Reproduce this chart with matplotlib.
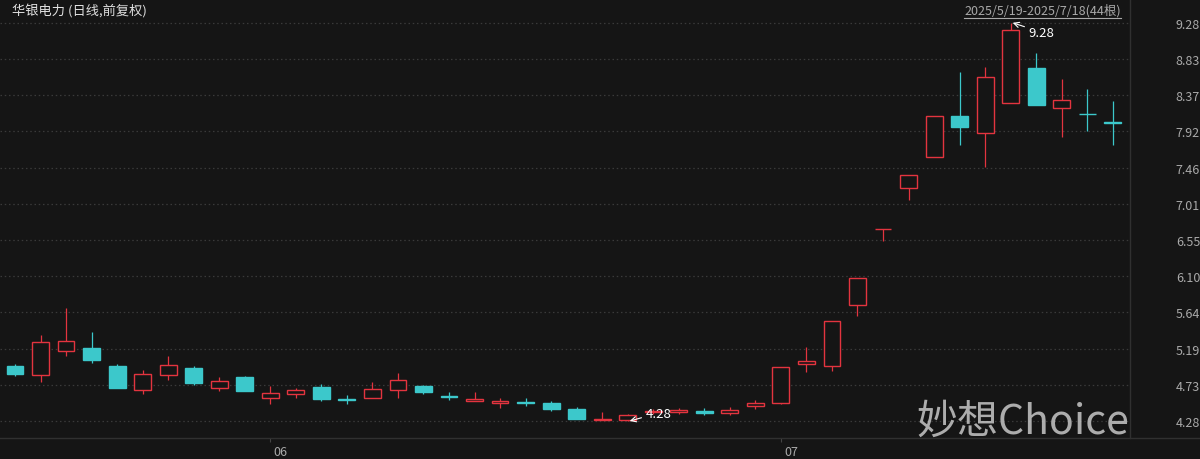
import matplotlib
matplotlib.use("Agg")
import matplotlib.pyplot as plt
from matplotlib.lines import Line2D
import matplotlib.transforms as mtransforms
import numpy as np

plt.rcParams['font.family'] = ['Noto Sans CJK SC', 'DejaVu Sans']

title = "华银电力 (日线,前复权)"
range_text = "2025/5/19-2025/7/18(44根)"
watermark = "妙想Choice"

dates = ["05-19", "05-20", "05-21", "05-22", "05-23", "05-26", "05-27", "05-28", "05-29", "05-30",
         "06-03", "06-04", "06-05", "06-06", "06-09", "06-10", "06-11", "06-12", "06-13", "06-16",
         "06-17", "06-18", "06-19", "06-20", "06-23", "06-24", "06-25", "06-26", "06-27", "06-30",
         "07-01", "07-02", "07-03", "07-04", "07-07", "07-08", "07-09", "07-10", "07-11", "07-14",
         "07-15", "07-16", "07-17", "07-18"]

opens = [4.97, 4.86, 5.16, 5.20, 4.97, 4.67, 4.86, 4.95, 4.70, 4.83,
         4.57, 4.62, 4.71, 4.55, 4.57, 4.67, 4.72, 4.59, 4.53, 4.50,
         4.52, 4.51, 4.43, 4.29, 4.29, 4.39, 4.39, 4.41, 4.38, 4.47,
         4.51, 4.99, 4.97, 5.74, 6.69, 7.21, 7.59, 8.11, 7.90, 8.27,
         8.71, 8.21, 8.14, 8.03]
highs = [5.00, 5.36, 5.70, 5.40, 5.00, 4.92, 5.10, 4.97, 4.83, 4.85,
         4.72, 4.70, 4.74, 4.61, 4.77, 4.88, 4.73, 4.64, 4.64, 4.57,
         4.57, 4.53, 4.45, 4.39, 4.37, 4.43, 4.44, 4.44, 4.45, 4.54,
         4.96, 5.21, 5.53, 6.08, 6.69, 7.37, 8.11, 8.66, 8.72, 9.28,
         8.90, 8.57, 8.45, 8.30]
lows = [4.85, 4.77, 5.09, 5.01, 4.69, 4.62, 4.80, 4.73, 4.66, 4.66,
        4.49, 4.57, 4.53, 4.49, 4.57, 4.57, 4.62, 4.54, 4.53, 4.44,
        4.47, 4.41, 4.30, 4.29, 4.28, 4.37, 4.37, 4.36, 4.36, 4.43,
        4.49, 4.89, 4.91, 5.60, 6.54, 7.05, 7.59, 7.75, 7.47, 8.27,
        8.25, 7.85, 7.92, 7.75]
closes = [4.87, 5.27, 5.28, 5.04, 4.70, 4.87, 4.98, 4.76, 4.78, 4.66,
          4.63, 4.67, 4.56, 4.54, 4.68, 4.80, 4.65, 4.58, 4.56, 4.53,
          4.51, 4.43, 4.31, 4.31, 4.36, 4.41, 4.42, 4.38, 4.42, 4.51,
          4.96, 5.03, 5.53, 6.08, 6.69, 7.37, 8.11, 7.97, 8.60, 9.19,
          8.25, 8.31, 8.13, 8.02]

y_min_label, y_max_label, n_labels = 4.28, 9.28, 12

BG = "#151515"
RED = "#e3343f"
CYAN = "#3cc8cb"
GRID = "#3a3a3a"
AXLINE = "#303030"
TXT = "#a9a9a9"

W, H = 1200, 460
fig = plt.figure(figsize=(W / 100, H / 100), dpi=100, facecolor=BG)

def fx(px):
    return px / W

def fy(py):
    return 1 - py / H

ax_left, ax_right, ax_top, ax_bottom = 0, 1130, 18, 439
ax = fig.add_axes([fx(ax_left), fy(ax_bottom), fx(ax_right) - fx(ax_left), fy(ax_top) - fy(ax_bottom)])
ax.set_facecolor(BG)

n = len(dates)
x = np.arange(n)
O = np.array(opens); Hh = np.array(highs); L = np.array(lows); C = np.array(closes)
up = C >= O

x0_px, step_px = 15.0, 25.53
ax.set_xlim((ax_left - x0_px) / step_px, (ax_right - x0_px) / step_px)
ppp = (y_max_label - y_min_label) / (n_labels - 1) / 36.2
ax.set_ylim(y_min_label - (ax_bottom - 422) * ppp, y_min_label + (422 - ax_top) * ppp)

yt = np.linspace(y_min_label, y_max_label, n_labels)
for v in yt:
    ax.axhline(v, color=GRID, lw=0.9, ls=(0, (1.2, 2.2)), zorder=0)

top = np.maximum(O, C)
bot = np.minimum(O, C)
colors = np.where(up, RED, CYAN)
ax.vlines(x, top, Hh, colors=colors, lw=0.9, zorder=2)
ax.vlines(x, L, bot, colors=colors, lw=0.9, zorder=2)
width = 0.66
for i in range(n):
    h = top[i] - bot[i]
    if up[i]:
        ax.bar(x[i], h, width=width, bottom=bot[i], facecolor=BG, edgecolor=RED, lw=1.0, zorder=3)
    else:
        ax.bar(x[i], h, width=width, bottom=bot[i], facecolor=CYAN, edgecolor=CYAN, lw=1.0, zorder=3)

for s in ax.spines.values():
    s.set_visible(False)

ax.yaxis.tick_right()
ax.set_yticks(yt)
ax.set_yticklabels([f"{v:.2f}" for v in yt])
ax.tick_params(axis='y', length=0, pad=33, labelsize=9, labelcolor=TXT)

month_idx = [i for i in range(n) if i == 0 or dates[i][:2] != dates[i - 1][:2]][1:]
ax.set_xticks(month_idx)
ax.set_xticklabels([dates[i][:2] for i in month_idx], ha='left')
ax.tick_params(axis='x', direction='out', length=3, color="#444444", pad=2, labelsize=9, labelcolor=TXT)
off = mtransforms.ScaledTranslation(3 / 100, 0, fig.dpi_scale_trans)
for lab in ax.get_xticklabels():
    lab.set_transform(lab.get_transform() + off)

imax = int(np.argmax(Hh)); imin = int(np.argmin(L))
ax.annotate(f"{Hh[imax]:.2f}", xy=(imax + 0.08, Hh[imax]), xytext=(imax + 0.7, Hh[imax] - 0.12),
            color="white", fontsize=9.5, ha='left', va='center',
            arrowprops=dict(arrowstyle='->', color='white', lw=0.8, shrinkA=1, shrinkB=0), zorder=5)
ax.annotate(f"{L[imin]:.2f}", xy=(imin + 0.08, L[imin]), xytext=(imin + 0.7, L[imin] + 0.1),
            color="white", fontsize=9.5, ha='left', va='center',
            arrowprops=dict(arrowstyle='->', color='white', lw=0.8, shrinkA=1, shrinkB=0), zorder=5)

fig.add_artist(Line2D([0, 1], [fy(439), fy(439)], color=AXLINE, lw=1.0))
fig.add_artist(Line2D([fx(1130), fx(1130)], [fy(439), 1], color=AXLINE, lw=1.0))

fig.text(fx(12), fy(12), title, color="#e0e0e0", fontsize=9.5, ha='left', va='center')
t = fig.text(fx(1121), fy(11), range_text, color=TXT, fontsize=9, ha='right', va='center')
fig.canvas.draw()
bb = t.get_window_extent()
fig.add_artist(Line2D([bb.x0 / W, bb.x1 / W], [fy(19), fy(19)], color=TXT, lw=0.8))

fig.text(fx(1129), fy(434), watermark, color="#c8c8c8", alpha=0.85, fontsize=29.5, ha='right', va='baseline')

fig.savefig("out.png", dpi=100, facecolor=BG)
